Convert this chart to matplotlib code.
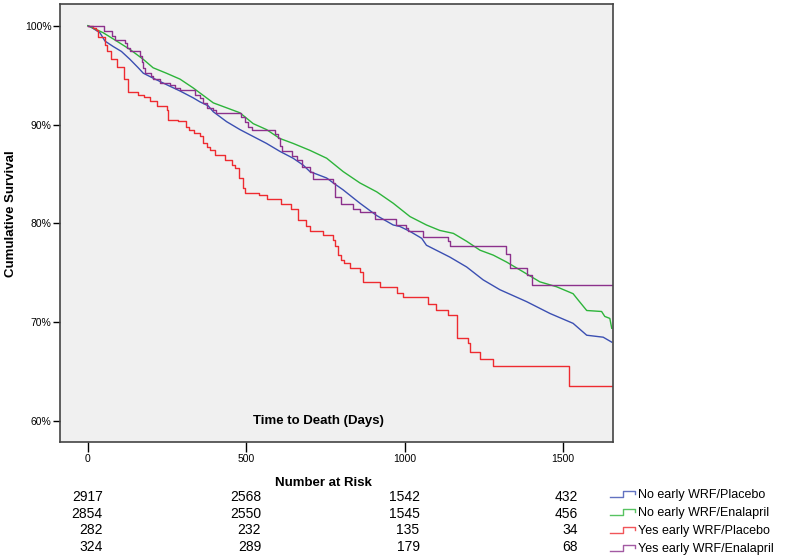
import numpy as np
import matplotlib
matplotlib.use("Agg")
import matplotlib.pyplot as plt
import matplotlib.transforms as mtransforms
from matplotlib.lines import Line2D
from matplotlib.legend_handler import HandlerBase

plt.rcParams['font.family'] = ['Liberation Sans', 'DejaVu Sans']

labels = ['No early WRF/Placebo', 'No early WRF/Enalapril',
          'Yes early WRF/Placebo', 'Yes early WRF/Enalapril']
colors = ['#3b4fb2', '#2db43a', '#ee2b30', '#8c318c']

# no early WRF / placebo (dense events)
blue_t = [0, 8, 38, 54, 80, 106, 133, 159, 175, 206, 248, 291, 333, 354, 380, 396, 438,
          480, 522, 564, 606, 648, 680, 701, 754, 775, 806, 859, 912, 964, 985, 1017,
          1054, 1069, 1143, 1196, 1248, 1301, 1385, 1459, 1532, 1575, 1627, 1654]
blue_s = [100, 99.9, 99.3, 98.45, 97.9, 97.4, 96.6, 95.75, 95.2, 94.7, 94.05, 93.4, 92.7,
          92.3, 91.9, 91.3, 90.3, 89.5, 88.8, 88.1, 87.3, 86.6, 85.9, 85.25, 84.6, 84.1,
          83.4, 82.05, 80.8, 79.85, 79.7, 79.2, 78.5, 77.8, 76.6, 75.6, 74.3, 73.3, 72.1,
          70.9, 69.9, 68.7, 68.5, 68.0]

# no early WRF / enalapril (dense events)
green_t = [0, 48, 91, 133, 175, 206, 248, 291, 333, 354, 396, 438, 480, 522, 564, 606,
           648, 701, 754, 806, 859, 912, 964, 1017, 1069, 1111, 1154, 1196, 1238, 1280,
           1322, 1375, 1427, 1480, 1532, 1547, 1575, 1622, 1632, 1648, 1654]
green_s = [100, 99.3, 98.45, 97.6, 96.6, 95.75, 95.2, 94.6, 93.7, 93.2, 92.2, 91.7, 91.2,
           90.1, 89.5, 88.6, 88.1, 87.4, 86.6, 85.25, 84.1, 83.2, 82.05, 80.7, 79.85, 79.3,
           79.0, 78.2, 77.3, 76.8, 76.1, 75.1, 74.1, 73.6, 72.9, 72.3, 71.2, 71.1, 70.6,
           70.4, 69.4]

# yes early WRF / placebo (steps)
red_t = [0, 17, 25, 33, 54, 59, 73, 92, 115, 127, 159, 178, 196, 219, 250, 254, 285, 309,
         320, 335, 354, 364, 375, 385, 401, 433, 454, 464, 478, 490, 497, 540, 565, 610,
         640, 664, 690, 701, 743, 775, 780, 791, 800, 808, 827, 859, 869, 922, 975, 996,
         1075, 1099, 1138, 1164, 1166, 1201, 1208, 1238, 1280, 1520, 1657]
red_s = [100, 99.8, 99.6, 98.9, 98.1, 97.4, 96.6, 95.8, 94.6, 93.3, 93.0, 92.8, 92.4, 91.9,
         91.5, 90.5, 90.35, 89.8, 89.5, 89.2, 88.8, 88.1, 87.7, 87.4, 86.9, 86.4, 85.9,
         85.6, 84.6, 83.6, 83.1, 82.9, 82.5, 82.0, 81.5, 80.4, 79.7, 79.2, 78.8, 78.3,
         77.7, 76.8, 76.3, 76.0, 75.5, 75.1, 74.1, 73.6, 73.0, 72.6, 71.9, 71.3, 70.7,
         70.2, 68.4, 67.9, 67.0, 66.3, 65.6, 63.6, 63.6]

# yes early WRF / enalapril (steps)
pur_t = [0, 50, 77, 85, 117, 125, 133, 164, 170, 175, 180, 200, 206, 227, 259, 275, 291,
         338, 354, 364, 375, 396, 406, 485, 496, 506, 517, 590, 601, 606, 612, 643, 659,
         675, 701, 712, 775, 780, 798, 838, 859, 906, 972, 1006, 1012, 1057, 1138, 1143,
         1319, 1334, 1387, 1403, 1658]
pur_s = [100, 99.5, 99.0, 98.6, 98.3, 97.8, 97.4, 96.9, 96.3, 95.75, 95.2, 94.9, 94.6,
         94.2, 94.05, 93.7, 93.55, 93.0, 92.7, 92.2, 91.7, 91.5, 91.2, 90.8, 90.3, 89.8,
         89.5, 89.1, 88.6, 87.8, 87.3, 86.8, 86.4, 85.75, 85.25, 84.5, 84.1, 82.7, 82.0,
         81.5, 81.2, 80.5, 79.85, 79.5, 79.2, 78.65, 78.2, 77.7, 76.9, 75.45, 74.8, 73.8,
         73.8]

risk_times = [0, 500, 1000, 1500]
risk_blue = [2917, 2568, 1542, 432]
risk_green = [2854, 2550, 1545, 456]
risk_red = [282, 232, 135, 34]
risk_pur = [324, 289, 179, 68]


class StepHandler(HandlerBase):
    def create_artists(self, legend, orig_handle, xdescent, ydescent, width, height,
                       fontsize, trans):
        xs = np.array([0, 0.5, 0.5, 1.0, 1.0]) * width - xdescent
        ys = np.array([0.1, 0.1, 0.8, 0.8, 0.5]) * height - ydescent
        ln = Line2D(xs, ys, color=orig_handle.get_color(), lw=1.0, alpha=0.8)
        ln.set_transform(trans)
        return [ln]


fig = plt.figure(figsize=(7.85, 5.59), dpi=100)
ax = fig.add_axes([60 / 785, 1 - 442 / 559, 553 / 785, 438 / 559])
ax.set_facecolor('#f0f0f0')

h1, = ax.plot(blue_t, blue_s, color=colors[0], lw=1.0)
h2, = ax.plot(green_t, green_s, color=colors[1], lw=1.0)
h3, = ax.step(red_t, red_s, where='post', color=colors[2], lw=1.0)
h4, = ax.step(pur_t, pur_s, where='post', color=colors[3], lw=1.0)

ax.set_xlim(-88, 1658)
ax.set_ylim(57.9, 102.2)
ax.set_xticks(risk_times)
ax.set_yticks([60, 70, 80, 90, 100])
ax.set_yticklabels(['60%', '70%', '80%', '90%', '100%'])
ax.tick_params(axis='y', labelsize=7.5, length=5, width=1, pad=1)
ax.tick_params(axis='x', labelsize=7.5, length=7, width=1, pad=2)
for sp in ax.spines.values():
    sp.set_color('#444444')
    sp.set_linewidth(1.2)

ax.text(0.468, 0.048, 'Time to Death (Days)', transform=ax.transAxes, ha='center',
        va='center', fontsize=9.5, fontweight='bold')
fig.text(11 / 785, 1 - 214 / 559, 'Cumulative Survival', rotation=90, ha='center',
         va='center', fontsize=9.5, fontweight='bold')
fig.text(323 / 785, 1 - 483 / 559, 'Number at Risk', ha='center', va='center',
         fontsize=9.5, fontweight='bold')

# number at risk table, right-aligned a little right of each tick
blend = mtransforms.blended_transform_factory(ax.transData, fig.transFigure)
shifted = mtransforms.offset_copy(blend, fig=fig, x=15, y=0, units='dots')
rows = [risk_blue, risk_green, risk_red, risk_pur]
row_y = [497, 514, 530, 547]
for vals, yy in zip(rows, row_y):
    for t, v in zip(risk_times, vals):
        fig.text(t, 1 - yy / 559, str(v), transform=shifted, ha='right', va='center',
                 fontsize=10)

leg = ax.legend([h1, h2, h3, h4], labels, handler_map={Line2D: StepHandler()},
                loc='upper left', bbox_to_anchor=(610 / 785, 1 - 489 / 559),
                bbox_transform=fig.transFigure, frameon=False, fontsize=9,
                handlelength=2.0, handletextpad=0.2, labelspacing=0.48,
                borderpad=0, borderaxespad=0)

fig.savefig('out.png', dpi=100)
